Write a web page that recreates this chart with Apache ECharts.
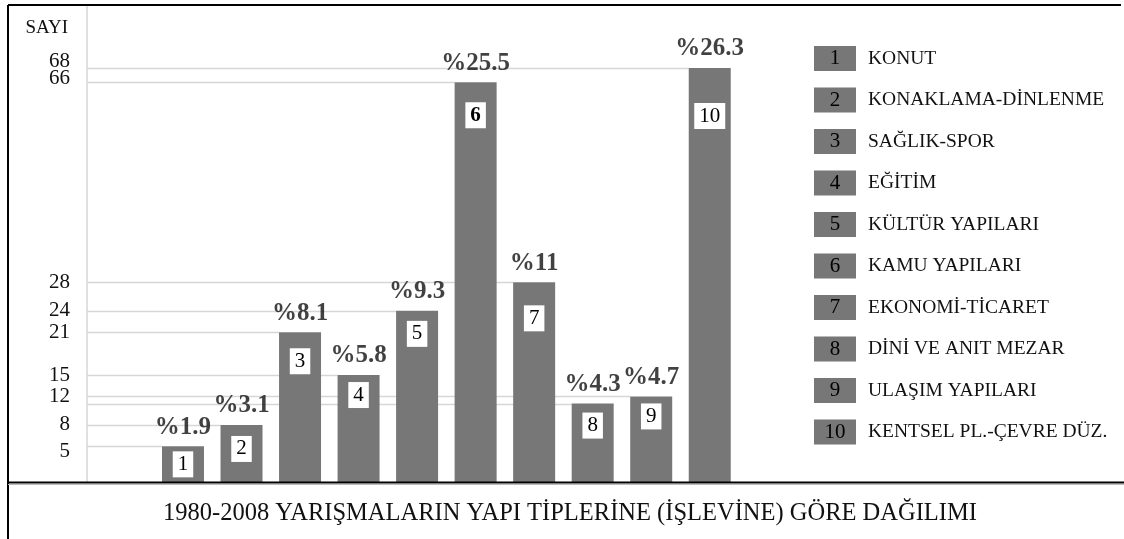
<!DOCTYPE html>
<html>
<head>
<meta charset="utf-8">
<script src="https://cdn.jsdelivr.net/npm/echarts@6/dist/echarts.min.js"></script>
<style>html,body{margin:0;padding:0;background:#fff}#c{width:1124px;height:539px}</style>
</head>
<body>
<div id="c"></div>
<script>
const categoryIds = [1, 2, 3, 4, 5, 6, 7, 8, 9, 10];
const counts = [5, 8, 21, 15, 24, 66, 28, 11, 12, 68];
const percents = [1.9, 3.1, 8.1, 5.8, 9.3, 25.5, 11, 4.3, 4.7, 26.3];
const legendNames = ['KONUT', 'KONAKLAMA-DİNLENME', 'SAĞLIK-SPOR', 'EĞİTİM', 'KÜLTÜR YAPILARI',
  'KAMU YAPILARI', 'EKONOMİ-TİCARET', 'DİNİ VE ANIT MEZAR', 'ULAŞIM YAPILARI', 'KENTSEL PL.-ÇEVRE DÜZ.'];
const yTicks = [5, 8, 12, 15, 21, 24, 28, 66, 68];
const yAxisName = 'SAYI';
const chartTitle = '1980-2008 YARIŞMALARIN YAPI TİPLERİNE (İŞLEVİNE) GÖRE DAĞILIMI';

// styling only: how far (px) each number box sits below its bar top
const boxInset = [5, 11, 16, 7, 10, 20, 23, 9, 7, 35];
// styling only: vertical nudge (px) of the tick labels, in yTicks order
const tickNudge = [5, 0, 0, 0, 0, 0, 0, -4, -7];

const FONT = "'Liberation Serif', 'Times New Roman', serif";
const BAR = '#777777';
const GRID = '#d6d6d6';
const BAR_W = 42;

const points = categoryIds.map((id, i) => [id, counts[i]]);

const chart = echarts.init(document.getElementById('c'));
const option = {
  animation: false,
  backgroundColor: '#fff',
  textStyle: { fontFamily: FONT },
  title: [
    { text: yAxisName, right: 1124 - 73, top: 14, textStyle: { fontFamily: FONT, fontSize: 19, fontWeight: 'normal', color: '#111' } },
    { text: chartTitle, left: 158, top: 496, textStyle: { fontFamily: FONT, fontSize: 24.5, fontWeight: 'normal', color: '#111' } }
  ],
  grid: { left: 87, right: 385, top: 68, bottom: 57, containLabel: false },
  xAxis: {
    type: 'value', min: -0.64, max: 10.5, show: false,
    splitLine: { show: false }
  },
  yAxis: {
    type: 'value', min: 0, max: 68,
    breaks: [{ start: 30, end: 64, gap: 24.06 }],
    breakArea: { show: false },
    axisLine: { show: false, onZero: false },
    axisTick: { show: false },
    splitLine: { show: false },
    axisLabel: { show: false }
  },
  legend: {
    orient: 'vertical', left: 804, top: 41, itemGap: 16.5,
    icon: 'rect', itemWidth: 0, itemHeight: 0,
    data: legendNames,
    formatter: name => '{b|' + (legendNames.indexOf(name) + 1) + '}{t|' + name + '}',
    textStyle: {
      rich: {
        b: { width: 42, height: 25, lineHeight: 25, backgroundColor: BAR, align: 'center', fontFamily: FONT, fontSize: 21, color: '#000' },
        t: { fontFamily: FONT, fontSize: 19.5, color: '#111', padding: [0, 0, 0, 12] }
      }
    }
  },
  graphic: [
    { type: 'line', shape: { x1: 8, y1: 5, x2: 8, y2: 539 }, style: { stroke: '#000', lineWidth: 2 }, z: 10 },
    { type: 'line', shape: { x1: 8, y1: 5, x2: 1121, y2: 5 }, style: { stroke: '#000', lineWidth: 2 }, z: 10 },
    { type: 'line', shape: { x1: 87, y1: 5, x2: 87, y2: 482 }, style: { stroke: GRID, lineWidth: 1.5 }, z: 1 },
    { type: 'line', shape: { x1: 8, y1: 484.5, x2: 1124, y2: 484.5 }, style: { stroke: '#bbb', lineWidth: 1 }, z: 10 },
    { type: 'line', shape: { x1: 8, y1: 482.5, x2: 1124, y2: 482.5 }, style: { stroke: '#000', lineWidth: 2 }, z: 10 }
  ],
  series: [
    {
      // y tick labels, placed through the y axis scale
      type: 'custom', z: 2, silent: true, clip: false,
      data: yTicks.map(v => [0, v]),
      renderItem: (params, api) => {
        const v = api.value(1);
        const p = api.coord([0, v]);
        return {
          type: 'text',
          style: {
            text: String(v), x: params.coordSys.x - 17, y: p[1] + tickNudge[params.dataIndex],
            align: 'right', verticalAlign: 'middle',
            font: '21px ' + FONT, fill: '#111'
          }
        };
      }
    },
    {
      // light drop lines from the axis to each bar top
      type: 'custom', z: 1, silent: true,
      data: points,
      renderItem: (params, api) => {
        const p = api.coord([api.value(0), api.value(1)]);
        const y = Math.round(p[1]) + 0.5;
        return {
          type: 'line',
          shape: { x1: params.coordSys.x, y1: y, x2: p[0] - BAR_W / 2, y2: y },
          style: { stroke: GRID, lineWidth: 1.5 }
        };
      }
    },
    {
      type: 'bar', z: 3, barWidth: BAR_W,
      itemStyle: { color: BAR },
      data: points.map((p, i) => ({
        value: p,
        label: Object.assign({ distance: boxInset[i] }, p[0] === 6 ? { fontWeight: 'bold' } : {})
      })),
      label: {
        show: true, position: 'insideTop', distance: 8,
        formatter: p => String(p.value[0]),
        backgroundColor: '#fff', padding: [2, 5, 2, 5], lineHeight: 22,
        fontFamily: FONT, fontSize: 21, color: '#000'
      }
    },
    {
      type: 'scatter', z: 4, symbolSize: 1, itemStyle: { color: 'rgba(0,0,0,0)' }, silent: true,
      data: points.map(p => ({ value: p })),
      label: {
        show: true, position: 'top', distance: 6,
        formatter: p => '%' + percents[p.dataIndex],
        fontFamily: FONT, fontSize: 25, fontWeight: 'bold', color: '#111'
      }
    },
    ...legendNames.map(n => ({ type: 'line', name: n, data: [], itemStyle: { color: BAR } }))
  ]
};
chart.setOption(option);
</script>
</body>
</html>
